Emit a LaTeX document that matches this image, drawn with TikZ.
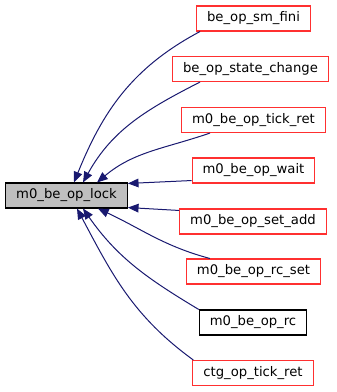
\documentclass[tikz,border=0pt]{standalone}
\usepackage{fontspec}
\setmainfont{DejaVu Sans}
\usetikzlibrary{arrows.meta}

\definecolor{edgeblue}{HTML}{191970}
\definecolor{boxgray}{HTML}{BFBFBF}
\definecolor{boxred}{HTML}{FF3030}

\begin{document}
\begin{tikzpicture}[x=0.75pt,y=-0.75pt,font=\fontsize{9.9}{12}\selectfont] %% tikz
	\tikzstyle{fn}=[draw=boxred,fill=white,line width=0.8pt,inner xsep=7.9pt,inner ysep=0pt,minimum height=18.75pt];
	\tikzstyle{doc}=[fn,draw=black];
	\tikzstyle{cur}=[fn,draw=black,fill=boxgray];
	\tikzstyle{call}=[draw=edgeblue,line width=0.75pt,-{Triangle[length=8pt,width=6.5pt]},edgeblue];
	\useasboundingbox (0,0) rectangle (336,392);
	%% the function itself
	\node[cur] (lock) at (66.5,195.5) {m0\_be\_op\_lock};
	%% callers
	\node[fn] (smfini) at (253.5,18.5) {be\_op\_sm\_fini};
	\node[fn] (statechange) at (250.5,69) {be\_op\_state\_change};
	\node[fn] (tickret) at (253.5,120) {m0\_be\_op\_tick\_ret};
	\node[fn] (wait) at (253.5,170.5) {m0\_be\_op\_wait};
	\node[fn] (setadd) at (253,221.5) {m0\_be\_op\_set\_add};
	\node[fn] (rcset) at (253.5,271.5) {m0\_be\_op\_rc\_set};
	\node[doc] (rc) at (253,322.5) {m0\_be\_op\_rc};
	\node[fn] (ctgtick) at (253,373) {ctg\_op\_tick\_ret};
	%% edges into the lock box
	\draw[call] ([shift={(4,0)}]smfini.south west) to[out=208,in=68] ([shift={(7.5,0)}]lock.north);
	\draw[call] ([shift={(28,0)}]statechange.south west) to[out=207,in=61] ([shift={(16.5,0)}]lock.north);
	\draw[call] ([shift={(29,0)}]tickret.south west) to[out=199,in=40] ([shift={(30.5,0)}]lock.north);
	\draw[call] ([shift={(0,-3)}]wait.south west) -- ([shift={(0,1)}]lock.north east);
	\draw[call] ([shift={(0,2)}]setadd.north west) -- ([shift={(0,-1)}]lock.south east);
	\draw[call] ([shift={(24,0)}]rcset.north west) to[out=165,in=-25] ([shift={(31.5,0)}]lock.south);
	\draw[call] (rc.north west) to[out=149,in=-55] ([shift={(16.5,0)}]lock.south);
	\draw[call] ([shift={(1,0)}]ctgtick.north west) to[out=144,in=-62] ([shift={(10.5,0)}]lock.south);
\end{tikzpicture}
\end{document}
